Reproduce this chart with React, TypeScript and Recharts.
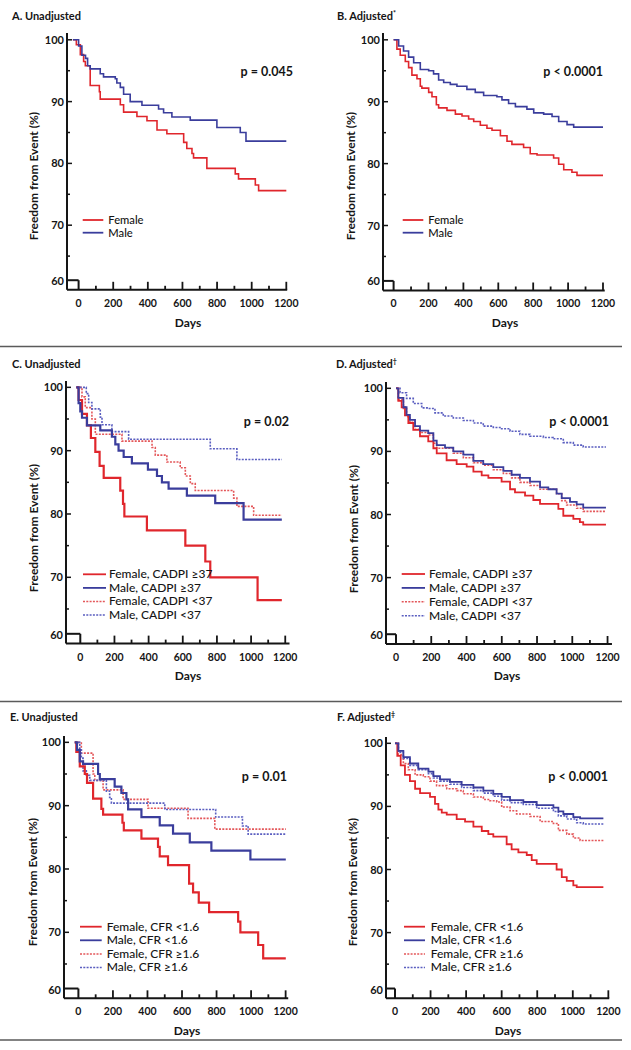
import React from 'react';
import { LineChart, Line, XAxis, YAxis, ReferenceLine } from 'recharts';

type Pt = [number, number];

// ---------- tick values ----------
const X_TICKS = [0, 100, 200, 300, 400, 500, 600, 700, 800, 900, 1000, 1100, 1200];
const Y_TICKS = [60, 65, 70, 75, 80, 85, 90, 95, 100];

// ---------- legends / labels ----------
const LEGEND_SEX = ['Female', 'Male'];
const LEGEND_CADPI = ['Female, CADPI ≥37', 'Male, CADPI ≥37', 'Female, CADPI <37', 'Male, CADPI <37'];
const LEGEND_CFR = ['Female, CFR <1.6', 'Male, CFR <1.6', 'Female, CFR ≥1.6', 'Male, CFR ≥1.6'];
const P_VALUES = ['p = 0.045', 'p < 0.0001', 'p = 0.02', 'p < 0.0001', 'p = 0.01', 'p < 0.0001'];
const TITLES = ['A. Unadjusted', 'B. Adjusted', 'C. Unadjusted', 'D. Adjusted', 'E. Unadjusted', 'F. Adjusted'];
const TITLE_MARKS = ['', '*', '', '†', '', '‡'];

// ---------- Panel A (unadjusted, sex) ----------
const A_FEMALE: Pt[] = [[-33,100],[-13,99.2],[10,97.6],[29,96.5],[39,95.8],[67,92.6],[120,91.6],[125,90.4],[241,89.5],[260,88.3],[337,87.6],[395,86.9],[453,85.4],[510,84.8],[607,83.4],[625,82.4],[655,81.6],[664,80.9],[741,79.2],[905,78.3],[924,77.5],[1021,76.5],[1040,75.6],[1200,75.6]];
const A_MALE: Pt[] = [[-33,100],[0,99.0],[19,97.5],[40,97.0],[52,95.8],[67,95.3],[125,94.5],[144,94.0],[212,93.7],[221,93.0],[241,92.3],[260,91.2],[298,90.0],[366,89.4],[462,88.8],[491,88.2],[539,87.5],[645,87.0],[799,85.8],[934,85.0],[967,83.6],[1200,83.6]];

// ---------- Panel B (adjusted, sex) ----------
const B_FEMALE: Pt[] = [[0,100],[19,98.5],[38,97.5],[67,96.5],[86,95.5],[105,94.3],[134,93.7],[153,92.5],[162,92.2],[201,91.5],[220,90.8],[245,89.5],[258,89.0],[306,88.6],[354,88.0],[392,87.7],[430,87.2],[459,86.8],[497,86.2],[535,85.7],[564,85.4],[612,84.5],[650,83.6],[678,83.1],[745,82.6],[783,81.6],[822,81.4],[917,80.9],[946,79.9],[975,79.0],[1022,78.6],[1051,78.1],[1200,78.1]];
const B_MALE: Pt[] = [[0,100],[29,99.0],[57,98.2],[86,97.2],[115,96.3],[153,95.2],[201,95.0],[229,94.5],[258,93.5],[287,93.1],[325,92.8],[363,92.5],[420,92.0],[468,91.5],[516,91.0],[592,90.8],[621,90.3],[659,89.7],[698,89.2],[764,88.8],[803,88.2],[860,88.0],[908,87.6],[946,86.8],[994,86.3],[1032,85.9],[1200,85.9]];

// ---------- Panel C (unadjusted, CADPI) ----------
const C_F_HI: Pt[] = [[-23,100],[-10,98],[10,95.8],[39,94],[62,92],[88,89.8],[113,87.6],[137,85.7],[234,83.7],[250,81.6],[258,79.6],[390,77.4],[615,75.0],[732,72.5],[761,70.0],[1038,66.4],[1180,66.4]];
const C_M_HI: Pt[] = [[-23,100],[-10,97.5],[0,96.2],[10,95.2],[39,94.0],[117,93.2],[185,92.2],[205,91.0],[224,90.0],[254,89.0],[302,88.0],[396,87.0],[449,86.0],[478,85.0],[517,84.0],[624,82.9],[790,81.7],[956,79.1],[1180,79.1]];
const C_F_LO: Pt[] = [[-23,100],[10,98.5],[29,96.8],[68,95.0],[88,92.6],[244,91.5],[420,90.5],[439,89.3],[507,88.2],[585,87.3],[615,86.0],[644,84.8],[673,83.7],[898,82.5],[917,81.2],[1015,79.8],[1180,79.8]];
const C_M_LO: Pt[] = [[-23,100],[35,99.0],[49,97.6],[68,96.6],[117,95.3],[127,94.1],[185,93.0],[283,91.8],[761,90.3],[917,88.6],[1180,88.6]];

// ---------- Panel D (adjusted, CADPI) ----------
const D_F_HI: Pt[] = [[0,100],[13,98],[32,97],[51,95.7],[70,94.5],[98,93.4],[136,92.4],[183,91.6],[212,90.5],[231,89.7],[287,88.6],[344,88.0],[401,87.6],[439,86.8],[486,86.2],[524,85.8],[599,85.2],[647,84.0],[675,83.5],[732,83.0],[779,82.3],[817,81.7],[921,80.9],[949,79.8],[1006,79.3],[1043,78.8],[1062,78.4],[1191,78.4]];
const D_M_HI: Pt[] = [[0,100],[13,98.5],[42,97.0],[60,95.8],[79,95.0],[108,94.0],[136,93.3],[183,92.9],[212,91.7],[231,91.0],[278,90.6],[325,90.0],[382,89.5],[439,88.5],[495,88.0],[552,87.5],[609,86.9],[656,86.3],[703,85.8],[760,85.2],[817,84.3],[864,84.0],[911,83.3],[940,82.6],[987,82.0],[1025,81.6],[1062,81.1],[1191,81.1]];
const D_F_LO: Pt[] = [[0,100],[13,98.2],[42,96.8],[60,95.5],[79,94.6],[108,93.5],[136,93.0],[183,92.6],[212,91.3],[231,90.5],[325,89.7],[382,89.0],[439,88.2],[495,87.8],[552,87.1],[609,86.5],[656,85.8],[703,85.1],[760,84.6],[817,84.0],[911,83.3],[940,82.2],[968,81.5],[1025,81.0],[1062,80.5],[1191,80.5]];
const D_M_LO: Pt[] = [[0,100],[23,99.3],[60,98.4],[98,97.6],[146,96.9],[183,96.8],[221,96.1],[268,95.6],[325,95.3],[382,94.9],[439,94.5],[495,94.0],[552,93.8],[599,93.6],[647,93.2],[703,92.7],[760,92.4],[836,92.2],[892,92.0],[949,91.4],[1006,91.0],[1062,90.7],[1191,90.7]];

// ---------- Panel E (unadjusted, CFR) ----------
const E_F_LO: Pt[] = [[-21,100],[-12,98.5],[8,96.2],[37,95.0],[50,93.6],[85,91.1],[133,89.5],[143,88.6],[255,87.3],[263,86.1],[365,84.8],[461,83.5],[471,82.0],[519,80.6],[641,77.7],[664,76.3],[697,74.7],[757,73.2],[925,71.7],[938,70.0],[1041,68.0],[1070,65.9],[1201,65.9]];
const E_M_LO: Pt[] = [[-21,100],[-8,98.8],[8,97.0],[27,96.6],[114,95.0],[124,94.2],[210,93.0],[249,92.0],[278,91.0],[288,89.4],[365,88.2],[471,86.9],[548,85.6],[645,84.2],[770,82.9],[996,81.5],[1201,81.5]];
const E_F_HI: Pt[] = [[-21,100],[17,98.3],[85,95.0],[95,94.0],[143,92.5],[259,91.0],[403,89.6],[635,88.0],[790,86.3],[1201,86.3]];
const E_M_HI: Pt[] = [[-21,100],[8,99.0],[17,97.5],[27,95.5],[46,94.8],[66,94.0],[162,92.3],[181,91.3],[191,90.4],[500,89.4],[795,88.2],[950,86.8],[983,85.5],[1201,85.5]];

// ---------- Panel F (adjusted, CFR) ----------
const F_F_LO: Pt[] = [[0,100],[13,98],[32,96.5],[56,95],[84,94],[113,92.8],[141,92.1],[197,91.5],[225,90.4],[244,89.5],[263,89.0],[291,88.7],[347,88.0],[394,87.6],[441,86.8],[488,86.1],[525,85.6],[553,85.2],[628,84.0],[656,83.2],[694,82.7],[741,82.3],[769,81.5],[797,80.9],[909,80.0],[938,78.8],[966,78.2],[1003,77.5],[1022,77.2],[1172,77.2]];
const F_M_LO: Pt[] = [[0,100],[19,98.8],[47,97.8],[84,96.8],[131,96.0],[188,95.5],[216,94.8],[253,94.3],[309,93.9],[375,93.4],[441,93.0],[497,92.5],[553,92.0],[600,91.5],[647,91.0],[722,90.7],[797,90.2],[891,89.8],[919,89.2],[947,88.8],[1003,88.3],[1041,88.1],[1172,88.1]];
const F_F_HI: Pt[] = [[0,100],[19,98.2],[47,96.8],[75,95.8],[113,95.0],[159,94.7],[197,94.0],[234,93.3],[291,92.8],[347,92.5],[384,92.0],[441,91.5],[497,91.1],[534,90.9],[572,90.7],[600,89.9],[647,89.3],[684,88.8],[759,88.4],[816,87.6],[891,87.3],[919,86.2],[966,85.6],[1003,85.0],[1041,84.6],[1172,84.6]];
const F_M_HI: Pt[] = [[0,100],[19,98.6],[47,97.6],[84,96.5],[131,95.8],[188,95.2],[216,94.5],[253,94.0],[309,93.5],[375,93.0],[441,92.5],[497,92.1],[553,91.6],[600,91.0],[647,90.6],[722,90.3],[797,89.7],[891,89.2],[919,88.5],[966,88.0],[1022,87.4],[1059,87.2],[1172,87.2]];

// ---------- styles ----------
const FONT = "Lato, 'Open Sans', 'DejaVu Sans', sans-serif";
const INK = '#151515';
const RED = '#e0262c';
const BLUE = '#3a3d9c';
const RED_DOT = '#e4575a';
const BLUE_DOT = '#5a5ec0';

type Series = { data: Pt[]; color: string; dashed: boolean; width: number };

type PanelCfg = {
  plotLeft: number; x0: number; ppd: number; xMax: number;
  y100: number; ppu: number; axisY: number; yMax: number;
  series: Series[];
  legend: string[];
  legendX1: number; legendX2: number; legendTX: number; legendY: number; legendDY: number; legendFS: number;
  titleX: number; titleY: number;
  pX: number; pY: number;
  yLabelX: number; yLabelY: number;
  daysX: number; daysY: number;
};

const sexSeries = (f: Pt[], m: Pt[]): Series[] => [
  { data: f, color: RED, dashed: false, width: 1.6 },
  { data: m, color: BLUE, dashed: false, width: 1.6 },
];
const fourSeries = (a: Pt[], b: Pt[], c: Pt[], d: Pt[], w: number): Series[] => [
  { data: c, color: RED_DOT, dashed: true, width: 1.6 },
  { data: d, color: BLUE_DOT, dashed: true, width: 1.6 },
  { data: a, color: RED, dashed: false, width: w },
  { data: b, color: BLUE, dashed: false, width: w },
];

const PANELS: PanelCfg[] = [
  { plotLeft: 66.7, x0: 78.3, ppd: 0.1731, xMax: 1205, y100: 40, ppu: 6.18, axisY: 290, yMax: 101.1,
    series: sexSeries(A_FEMALE, A_MALE), legend: LEGEND_SEX,
    legendX1: 82.7, legendX2: 103.3, legendTX: 108.3, legendY: 220, legendDY: 12.7, legendFS: 11.2,
    titleX: 12, titleY: 20, pX: 293, pY: 76, yLabelX: 33, yLabelY: 176, daysX: 188, daysY: 322 },
  { plotLeft: 382.7, x0: 393.3, ppd: 0.1745, xMax: 1210, y100: 40, ppu: 6.19, axisY: 290.7, yMax: 101.1,
    series: sexSeries(B_FEMALE, B_MALE), legend: LEGEND_SEX,
    legendX1: 402.7, legendX2: 423.3, legendTX: 428.3, legendY: 220, legendDY: 12.7, legendFS: 11.2,
    titleX: 337, titleY: 20, pX: 603, pY: 76, yLabelX: 350, yLabelY: 176, daysX: 505, daysY: 322 },
  { plotLeft: 65.7, x0: 80, ppd: 0.1708, xMax: 1225, y100: 387.7, ppu: 6.333, axisY: 644, yMax: 101,
    series: fourSeries(C_F_HI, C_M_HI, C_F_LO, C_M_LO, 2.2), legend: LEGEND_CADPI,
    legendX1: 83, legendX2: 106, legendTX: 109, legendY: 574.3, legendDY: 13.6, legendFS: 12,
    titleX: 12, titleY: 368, pX: 289, pY: 426, yLabelX: 33, yLabelY: 528, daysX: 188, daysY: 675 },
  { plotLeft: 386, x0: 396, ppd: 0.1763, xMax: 1225, y100: 388.3, ppu: 6.31, axisY: 644, yMax: 101,
    series: fourSeries(D_F_HI, D_M_HI, D_F_LO, D_M_LO, 1.8), legend: LEGEND_CADPI,
    legendX1: 401.7, legendX2: 425, legendTX: 429, legendY: 574, legendDY: 13.9, legendFS: 12,
    titleX: 336, titleY: 368, pX: 609, pY: 426, yLabelX: 353, yLabelY: 529, daysX: 507, daysY: 675 },
  { plotLeft: 64.3, x0: 78.7, ppd: 0.1727, xMax: 1215, y100: 742.3, ppu: 6.333, axisY: 998.3, yMax: 101,
    series: fourSeries(E_F_LO, E_M_LO, E_F_HI, E_M_HI, 2.2), legend: LEGEND_CFR,
    legendX1: 80, legendX2: 101.7, legendTX: 106.7, legendY: 926.7, legendDY: 13.6, legendFS: 12,
    titleX: 10, titleY: 721, pX: 287, pY: 781, yLabelX: 32, yLabelY: 882, daysX: 187, daysY: 1030 },
  { plotLeft: 386, x0: 395, ppd: 0.1778, xMax: 1205, y100: 743.3, ppu: 6.31, axisY: 998.3, yMax: 101,
    series: fourSeries(F_F_LO, F_M_LO, F_F_HI, F_M_HI, 1.8), legend: LEGEND_CFR,
    legendX1: 404, legendX2: 425, legendTX: 430.7, legendY: 926.7, legendDY: 13.6, legendFS: 12,
    titleX: 337, titleY: 721, pX: 608, pY: 781, yLabelX: 352, yLabelY: 882, daysX: 508, daysY: 1030 },
];

const XTick = (props: any) => {
  const { x, y, payload } = props;
  const v = payload.value as number;
  const major = v % 200 === 0;
  return (
    <g>
      {v !== 0 && (
        <line x1={x} x2={x} y1={y} y2={y - (major ? 8 : 4)} stroke={INK} strokeWidth={1.8} />
      )}
      {major && (
        <text x={x} y={y + 17} textAnchor="middle" fontFamily={FONT} fontSize={10.5} fontWeight={700} fill={INK}>
          {v}
        </text>
      )}
    </g>
  );
};

const YTick = (props: any) => {
  const { x, y, payload } = props;
  const v = payload.value as number;
  const major = v % 10 === 0;
  return (
    <g>
      {v !== 60 && (
        <line x1={x} x2={x + (major ? 5 : 3)} y1={y} y2={y} stroke={INK} strokeWidth={1.5} />
      )}
      {major && (
        <text x={x - 3} y={y + (v === 60 ? -6 : 0)} dy={4} textAnchor="end" fontFamily={FONT} fontSize={11} fontWeight={700} fill={INK}>
          {v}
        </text>
      )}
    </g>
  );
};

function Panel({ cfg }: { cfg: PanelCfg }) {
  const YW = 40, MT = 6, XH = 30, MR = 22;
  const xMin = -(cfg.x0 - cfg.plotLeft) / cfg.ppd;
  const yMin = 100 - (cfg.axisY - cfg.y100) / cfg.ppu;
  const plotW = (cfg.xMax - xMin) * cfg.ppd;
  const plotH = (cfg.yMax - yMin) * cfg.ppu;
  const width = YW + plotW + MR;
  const height = MT + plotH + XH;
  const left = cfg.plotLeft - YW;
  const top = cfg.axisY - plotH - MT;
  const boxTop = yMin + 1.55;
  return (
    <div style={{ position: 'absolute', left, top, width, height }}>
      <LineChart width={width} height={height} margin={{ top: MT, right: MR, bottom: 0, left: 0 }}>
        <XAxis
          type="number" dataKey="x" domain={[xMin, cfg.xMax]} ticks={X_TICKS} interval={0}
          allowDataOverflow tickSize={0} tickMargin={0} tickLine={false} height={XH}
          axisLine={{ stroke: INK, strokeWidth: 2 }} tick={<XTick />}
        />
        <YAxis
          type="number" domain={[yMin, cfg.yMax]} ticks={Y_TICKS} interval={0}
          allowDataOverflow width={YW} tickSize={0} tickMargin={0} tickLine={false}
          axisLine={{ stroke: INK, strokeWidth: 2 }} tick={<YTick />}
        />
        <ReferenceLine segment={[{ x: xMin, y: boxTop }, { x: 0, y: boxTop }]} stroke={INK} strokeWidth={2} ifOverflow="visible" />
        <ReferenceLine segment={[{ x: 0, y: yMin }, { x: 0, y: boxTop }]} stroke={INK} strokeWidth={2} ifOverflow="visible" />
        {cfg.series.map((s, i) => (
          <Line
            key={i}
            data={s.data.map(([x, y]) => ({ x, y }))}
            dataKey="y"
            type="stepAfter"
            stroke={s.color}
            strokeWidth={s.width}
            strokeDasharray={s.dashed ? '2 1.3' : undefined}
            dot={false}
            activeDot={false}
            isAnimationActive={false}
          />
        ))}
      </LineChart>
    </div>
  );
}

function Overlay() {
  const legendStyle = (i: number) => {
    const dashed = i >= 2;
    const color = i % 2 === 0 ? (dashed ? RED_DOT : RED) : (dashed ? BLUE_DOT : BLUE);
    return { dashed, color };
  };
  return (
    <svg width={631} height={1050} style={{ position: 'absolute', left: 0, top: 0, pointerEvents: 'none' }}>
      <defs>
        <linearGradient id="topfade" x1="0" x2="1" y1="0" y2="0">
          <stop offset="0" stopColor="#777" />
          <stop offset="0.8" stopColor="#aaa" />
          <stop offset="1" stopColor="#eee" />
        </linearGradient>
      </defs>
      <line x1={0} x2={352} y1={1.2} y2={1.2} stroke="url(#topfade)" strokeWidth={2} />
      <line x1={0} x2={622} y1={346.5} y2={346.5} stroke="#5a5a5a" strokeWidth={1.5} />
      <line x1={0} x2={622} y1={701.5} y2={701.5} stroke="#5a5a5a" strokeWidth={1.5} />
      <line x1={0} x2={622} y1={1040} y2={1040} stroke="#5a5a5a" strokeWidth={1.5} />
      {PANELS.map((p, k) => (
        <g key={k} fontFamily={FONT} fill={INK}>
          <text x={p.titleX} y={p.titleY} fontSize={11} fontWeight={700}>
            {TITLES[k]}
            {TITLE_MARKS[k] && <tspan fontSize={7} dy={-4}>{TITLE_MARKS[k]}</tspan>}
          </text>
          <text x={p.pX} y={p.pY} fontSize={12.5} fontWeight={700} textAnchor="end">{P_VALUES[k]}</text>
          <text
            x={p.yLabelX} y={p.yLabelY} fontSize={12} fontWeight={700} textAnchor="middle"
            dominantBaseline="central" transform={`rotate(-90 ${p.yLabelX} ${p.yLabelY})`}
          >
            Freedom from Event (%)
          </text>
          <text x={p.daysX} y={p.daysY} fontSize={12} fontWeight={700} textAnchor="middle" dominantBaseline="central">Days</text>
          {p.legend.map((lab, i) => {
            const st = legendStyle(i);
            const y = p.legendY + i * p.legendDY;
            return (
              <g key={i}>
                <line x1={p.legendX1} x2={p.legendX2} y1={y} y2={y} stroke={st.color}
                  strokeWidth={st.dashed ? 1.5 : 1.8} strokeDasharray={st.dashed ? '2 1.3' : undefined} />
                <text x={p.legendTX} y={y} dy={3.8} fontSize={p.legendFS} fontWeight={500}>{lab}</text>
              </g>
            );
          })}
        </g>
      ))}
    </svg>
  );
}

export default function App() {
  return (
    <div style={{ position: 'absolute', left: 0, top: 0, width: 631, height: 1050, background: '#fff', overflow: 'hidden' }}>
      {PANELS.map((p, k) => (
        <Panel key={k} cfg={p} />
      ))}
      <Overlay />
    </div>
  );
}
